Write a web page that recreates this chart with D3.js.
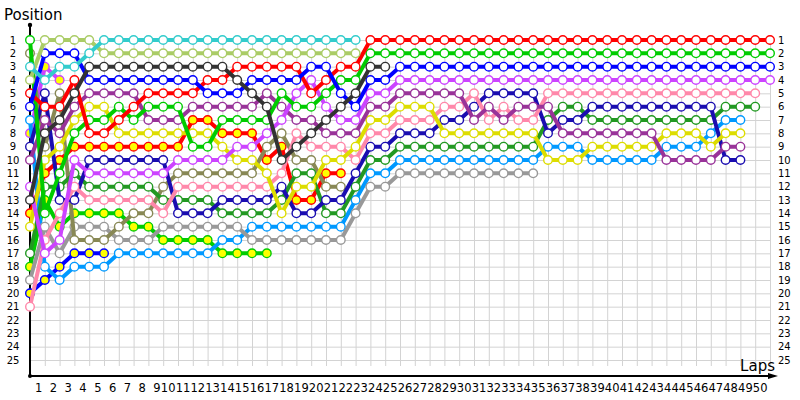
<!DOCTYPE html>
<html><head><meta charset="utf-8">
<script src="https://cdn.jsdelivr.net/npm/d3@7"></script>
<style>body{margin:0;background:#fff}svg{display:block}text{font-family:"DejaVu Sans",Verdana,sans-serif}</style>
</head><body><svg id="c" width="800" height="400"></svg>
<script>
// ---- data (positions per lap, lap 0 = grid) ----
const lapTicks = d3.range(1, 51);
const positionTicks = d3.range(1, 26);
const driverIds = ["TL","LO","BK","B1","R1","G1","V1","DP","Y","PK","NV","DG","OL","GR","LB","V2","R2","G2","B2"];
const TL = [3,4,3,3,2, 1,1,1,1,1, 1,1,1,1,1, 1,1,1,1,1, 1,1,1];
const LO = [4,1,1,1,1, 2,2,2,2,2, 2,2,2,2,2, 2,2,2,2,2, 2,2,2];
const BK = [13,8,7,5,3, 3,3,3,3,3, 3,3,3,3,4, 5,6,10,9,8, 7,6,5,3,3];
const B1 = [6,2,2,2,4, 4,4,4,4,4, 4,4,5,5,5, 4,4,4,4,3, 3,5,6,4,4, 3,3,3,3,3, 3,3,3,3,3, 3,3,3,3,3, 3,3,3,3,3, 3,3,3,3,3, 3];
const R1 = [5,6,6,4,8, 8,7,6,5,5, 5,5,4,4,3, 3,3,3,3,5, 4,3,3,1,1, 1,1,1,1,1, 1,1,1,1,1, 1,1,1,1,1, 1,1,1,1,1, 1,1,1,1,1, 1];
const G1 = [1,14,11,8,7, 7,6,7,6,6, 6,9,9,7,7, 7,7,5,6,6, 5,4,4,2,2, 2,2,2,2,2, 2,2,2,2,2, 2,2,2,2,2, 2,2,2,2,2, 2,2,2,2,2, 2];
const V1 = [12,17,16,10,11, 11,11,11,11,11, 10,10,10,10,9, 9,8,7,5,4, 6,7,7,5,5, 4,4,4,4,4, 4,4,4,4,4, 4,4,4,4,4, 4,4,4,4,4, 4,4,4,4,4, 4];
const DP = [10,7,8,6,5, 5,5,5,7,7, 7,6,6,6,6, 6,5,6,7,7, 8,8,8,6,6, 5,5,5,5,5, 7,6,7,6,6, 6,8,8,8,8, 8,8,8,10,10, 10,10,9,9];
const Y  = [15,10,9,7,6, 6,8,8,8,8, 8,8,8,9,10, 10,11,14,12,12, 10,10,9,7,7, 6,6,6,8,8, 8,8,8,8,8, 10,10,10,9,9, 9,9,9,8,8, 8,9,8,8];
const PK = [21,16,14,12,13, 13,13,13,13,14, 12,12,12,12,12, 12,12,11,8,9, 9,9,10,8,8, 7,7,7,6,6, 5,7,6,7,7, 5,5,5,5,5, 5,5,5,5,5, 5,5,5,5,5];
const NV = [9,5,13,13,10, 10,10,10,10,10, 14,14,14,13,13, 13,13,12,14,14, 13,13,11,9,9, 8,8,8,7,7, 6,5,5,5,5, 8,7,7,6,6, 6,6,6,6,6, 6,6,10,10];
const DG = [17,12,12,11,12, 12,12,12,12,13, 13,13,13,14,14, 14,14,13,11,11, 14,14,12,10,10, 9,9,9,9,9, 9,9,9,9,9, 7,6,6,7,7, 7,7,7,7,7, 7,7,6,6,6];
const OL = [2,9,5,16,16, 16,15,14,14,12, 11,11,11,11,11, 11,9,8,10,10, 12,12];
const GR = [19,15,17,15,15, 15,16,16,16,15, 15,15,15,15,15, 16,16,16,16,16, 16,16,14,12,12, 11,11,11,11,11, 11,11,11,11,11];
const LB = [7,18,19,18,18, 18,17,17,17,17, 17,17,17,16,16, 15,15,15,15,15, 15,15,13,11,11, 10,10,10,10,10, 10,10,10,10,10, 9,9,9,10,10, 10,10,10,9,9, 9,8,7,7];
const V2 = [8,3,4];
const R2 = [14,11,10,9,9, 9,9,9,9,9, 9,7,7,8,8, 8,10,9,13,13, 11,11];
const G2 = [18,13,15,14,14, 14,14,15,15,16, 16,16,16,17,17, 17,17];
const B2 = [20,19,18,17,17, 17];
const positions = {TL,LO,BK,B1,R1,G1,V1,DP,Y,PK,NV,DG,OL,GR,LB,V2,R2,G2,B2};

// ---- styles ----
const lineColor = {TL:"#33cccc",LO:"#aacc66",BK:"#333333",B1:"#0000ff",R1:"#ff0000",G1:"#00cc00",V1:"#cc44ff",DP:"#993399",Y:"#dddd00",PK:"#ff88aa",NV:"#1a0db0",DG:"#229922",OL:"#888855",GR:"#999999",LB:"#0099ff",V2:"#cc44ff",R2:"#ff0000",G2:"#00cc00",B2:"#0000ff"};
const markerFill = {V2:"#ffff00",R2:"#ffff00",G2:"#ffff00",B2:"#ffff00"};

const svg = d3.select("#c");
const x = d3.scaleLinear().domain([0,50]).range([30,770]);
const y = d3.scaleLinear().domain([1,25]).range([40,360]);

// grid
const grid = svg.append("g").attr("stroke","#d3d3d3").attr("stroke-width",1);
grid.selectAll("line.v").data(lapTicks).join("line")
  .attr("x1",d=>x(d)+0.5).attr("x2",d=>x(d)+0.5).attr("y1",y(1)).attr("y2",y(25)+6);
grid.selectAll("line.h").data(positionTicks).join("line")
  .attr("x1",x(0)).attr("x2",x(50)).attr("y1",d=>y(d)+0.5).attr("y2",d=>y(d)+0.5);

// axes
const font = "DejaVu Sans, Verdana, sans-serif";
const yAxis = d3.axisLeft(y).tickValues(positionTicks).tickSize(0).tickPadding(0);
const gl = svg.append("g").attr("transform","translate(13,0)").call(yAxis);
gl.select(".domain").remove();
gl.selectAll("text").attr("text-anchor","middle").attr("font-size",10).attr("fill","#000").attr("font-family",font);
const yAxisR = d3.axisRight(y).tickValues(positionTicks).tickSize(0).tickPadding(0);
const gr = svg.append("g").attr("transform","translate(778,0)").call(yAxisR);
gr.select(".domain").remove();
gr.selectAll("text").attr("font-size",10).attr("fill","#000").attr("font-family",font);
const xAxis = d3.axisBottom(x).tickValues(lapTicks).tickSize(0).tickPadding(0);
const gx = svg.append("g").attr("transform","translate(-3,384)").call(xAxis);
gx.select(".domain").remove();
gx.selectAll("text").attr("text-anchor","end").attr("font-size",11.5).attr("fill","#000").attr("font-family",font);

svg.append("line").attr("x1",30).attr("x2",30).attr("y1",24).attr("y2",376).attr("stroke","#000").attr("stroke-width",2);
svg.append("line").attr("x1",29).attr("x2",768).attr("y1",376).attr("y2",376).attr("stroke","#000").attr("stroke-width",2);
svg.append("path").attr("d","M768,373 L778,376 L768,379 Z").attr("fill","#000");
svg.append("circle").attr("cx",30).attr("cy",25).attr("r",2.2).attr("fill","#000");
svg.append("circle").attr("cx",30).attr("cy",376).attr("r",2).attr("fill","#000");
svg.append("text").attr("x",4).attr("y",20).attr("font-size",15).text("Position");
svg.append("text").attr("x",775).attr("y",371).attr("font-size",15).attr("text-anchor","end").text("Laps");

// series
const line = d3.line().x((d,i)=>x(i)).y(d=>y(d));
const order = driverIds.slice().reverse();
order.forEach(id => {
  const data = positions[id];
  const g = svg.append("g");
  g.append("path").datum(data).attr("d",line).attr("fill","none")
    .attr("stroke",lineColor[id]).attr("stroke-width",4).attr("stroke-linejoin","round");
  g.selectAll("circle").data(data).join("circle")
    .attr("cx",(d,i)=>x(i)).attr("cy",d=>y(d)).attr("r",4.3)
    .attr("fill",markerFill[id]||"#fff").attr("stroke",lineColor[id]).attr("stroke-width",1.4);
});
</script></body></html>
